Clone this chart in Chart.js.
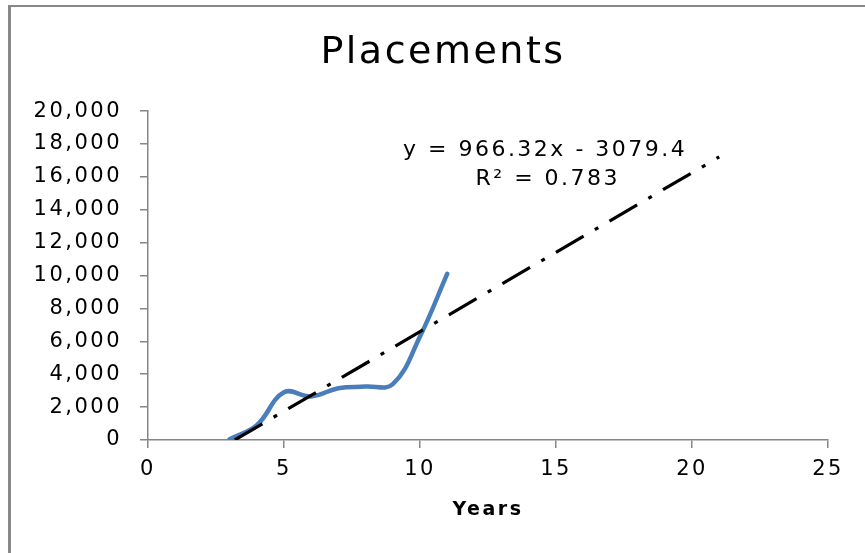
<!DOCTYPE html>
<html>
<head>
<meta charset="utf-8">
<script src="https://cdn.jsdelivr.net/npm/chart.js@4"></script>
<style>
  html, body { margin: 0; padding: 0; background: #fff; }
  #wrap { width: 865px; height: 553px; position: relative; }
</style>
</head>
<body>
<div id="wrap"><canvas id="c" width="865" height="553"></canvas></div>
<script>
// ---- data ----
const years = [3, 4, 5, 6, 7, 8, 9, 10, 11];
const placements = [50, 900, 2900, 2650, 3150, 3250, 3400, 6300, 10100];

// linear trendline as printed on the chart
const trendSlope = 966.32;
const trendIntercept = -3079.4;
const trendX = [3.19, 21];

const xTicks = [0, 5, 10, 15, 20, 25];
const yTicks = [0, 2000, 4000, 6000, 8000, 10000, 12000, 14000, 16000, 18000, 20000];

const titleText = 'Placements';
const xTitleText = 'Years';
const eqLines = ['y = 966.32x - 3079.4', 'R\u00B2 = 0.783'];

// ---- build library structures ----
const seriesPoints = years.map((x, i) => ({ x: x, y: placements[i] }));
const trendPoints = trendX.map(x => ({ x: x, y: trendSlope * x + trendIntercept }));

const FONT = '"DejaVu Sans", sans-serif';
const LS = '2.5px';

const spacingPlugin = {
  id: 'spacing',
  beforeLayout(chart) { chart.ctx.letterSpacing = LS; },
  beforeDraw(chart) { chart.ctx.letterSpacing = LS; }
};

const framePlugin = {
  id: 'frame',
  beforeDraw(chart) {
    const ctx = chart.ctx;
    ctx.save();
    ctx.fillStyle = '#ffffff';
    ctx.fillRect(0, 0, chart.width, chart.height);
    ctx.fillStyle = '#888888';
    ctx.fillRect(8, 5, 3, chart.height - 5);
    ctx.fillRect(8, 5, chart.width - 8, 2);
    ctx.restore();
  }
};

const eqPlugin = {
  id: 'eq',
  afterDatasetsDraw(chart) {
    const ctx = chart.ctx;
    const xs = chart.scales.x, ys = chart.scales.y;
    ctx.save();
    ctx.letterSpacing = '2.5px';
    ctx.font = '22px ' + FONT;
    ctx.fillStyle = '#000';
    ctx.textAlign = 'center';
    ctx.textBaseline = 'middle';
    ctx.fillText(eqLines[0], xs.getPixelForValue(14.6), ys.getPixelForValue(17600));
    ctx.fillText(eqLines[1], xs.getPixelForValue(14.7), ys.getPixelForValue(15880));
    ctx.restore();
  }
};

new Chart(document.getElementById('c'), {
  type: 'scatter',
  data: {
    datasets: [
      {
        label: 'Placements',
        data: seriesPoints,
        showLine: true,
        borderColor: '#4A7EBB',
        backgroundColor: '#4A7EBB',
        borderWidth: 4.5,
        borderCapStyle: 'round',
        borderJoinStyle: 'round',
        pointRadius: 0,
        pointHoverRadius: 0,
        tension: 0.4,
        order: 2
      },
      {
        label: 'Linear (Placements)',
        data: trendPoints,
        showLine: true,
        borderColor: '#000000',
        borderWidth: 3.2,
        borderDash: [32, 13, 4, 13],
        borderCapStyle: 'butt',
        pointRadius: 0,
        pointHoverRadius: 0,
        tension: 0,
        order: 1
      }
    ]
  },
  options: {
    responsive: false,
    animation: false,
    events: [],
    layout: { padding: { left: 30, right: 9, top: 0, bottom: 0 } },
    plugins: {
      legend: { display: false },
      tooltip: { enabled: false },
      title: {
        display: true,
        text: titleText,
        color: '#000',
        font: { family: FONT, size: 38, weight: 'normal', lineHeight: 1.2 },
        padding: { top: 30, bottom: 35.5 }
      }
    },
    scales: {
      x: {
        type: 'linear',
        min: 0,
        max: 25,
        afterBuildTicks(scale) { scale.ticks = xTicks.map(v => ({ value: v })); },
        afterFit(scale) { scale.height = 113; },
        ticks: {
          color: '#000',
          font: { family: FONT, size: 21 },
          padding: 9,
          maxRotation: 0,
          autoSkip: false
        },
        grid: { drawOnChartArea: false, color: '#868686', tickLength: 8, lineWidth: 1.5 },
        border: { color: '#868686', width: 1.5 },
        title: {
          display: true,
          text: xTitleText,
          color: '#000',
          font: { family: FONT, size: 19, weight: 'bold', lineHeight: 1.2 },
          padding: { top: 0, bottom: 32 }
        }
      },
      y: {
        type: 'linear',
        min: 0,
        max: 20000,
        afterBuildTicks(scale) { scale.ticks = yTicks.map(v => ({ value: v })); },
        afterFit(scale) { scale.width = 118; },
        ticks: {
          color: '#000',
          font: { family: FONT, size: 21 },
          padding: 18,
          autoSkip: false,
          callback: v => v.toLocaleString('en-US')
        },
        grid: { drawOnChartArea: false, color: '#868686', tickLength: 8, lineWidth: 1.5 },
        border: { color: '#868686', width: 1.5 }
      },
      spacer: {
        type: 'linear',
        position: 'right',
        display: true,
        afterFit(scale) { scale.width = 28; },
        ticks: { display: false },
        grid: { display: false },
        border: { display: false }
      }
    }
  },
  plugins: [spacingPlugin, framePlugin, eqPlugin]
});
</script>
</body>
</html>
